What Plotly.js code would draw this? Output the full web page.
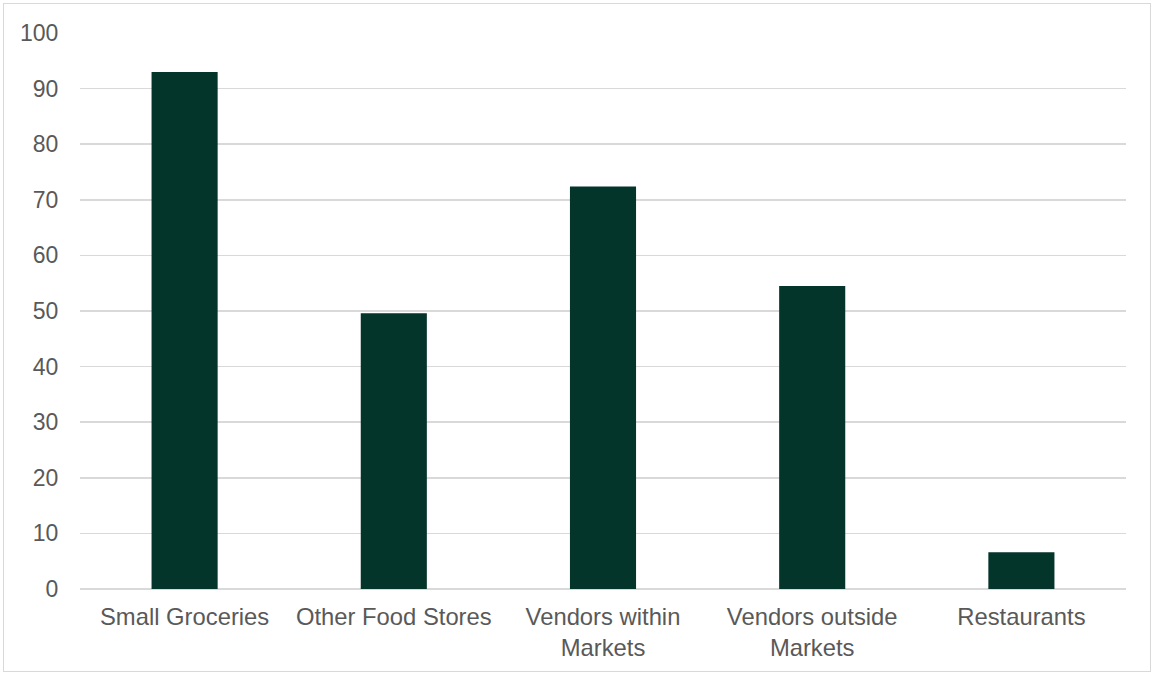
<!DOCTYPE html>
<html>
<head>
<meta charset="utf-8">
<script src="https://cdn.plot.ly/plotly-3.0.1.min.js"></script>
<style>
html,body{margin:0;padding:0;background:#fff;}
#chart{width:1155px;height:675px;}
#frame{position:absolute;left:3px;top:3px;width:1148px;height:669px;border:1px solid #d9d9d9;box-sizing:border-box;pointer-events:none;}
</style>
</head>
<body>
<div id="chart"></div>
<div id="frame"></div>
<script>
var categories = ["Small Groceries", "Other Food Stores", "Vendors within<br>Markets", "Vendors outside<br>Markets", "Restaurants"];
var values = [93.0, 49.6, 72.4, 54.5, 6.6];
var yTicks = [0, 10, 20, 30, 40, 50, 60, 70, 80, 90, 100];

var trace = {
  type: 'bar',
  x: categories,
  y: values,
  marker: {color: '#04352A', line: {width: 0}},
  width: 0.316,
  hoverinfo: 'x+y'
};

var layout = {
  width: 1155,
  height: 675,
  margin: {l: 80, r: 29, t: 33, b: 86},
  paper_bgcolor: '#ffffff',
  plot_bgcolor: '#ffffff',
  showlegend: false,
  font: {family: 'Liberation Sans, Arial, sans-serif', size: 23, color: '#595959'},
  xaxis: {
    type: 'category',
    showgrid: false,
    showline: false,
    zeroline: false,
    ticks: 'outside',
    ticklen: 6,
    tickcolor: 'rgba(0,0,0,0)',
    tickfont: {size: 23.8, color: '#595959'}
  },
  yaxis: {
    range: [0, 100],
    tickvals: yTicks,
    ticktext: yTicks.map(String),
    showgrid: true,
    gridcolor: '#d9d9d9',
    gridwidth: 1.5,
    zeroline: true,
    zerolinecolor: '#d9d9d9',
    zerolinewidth: 1.5,
    showline: false,
    ticks: 'outside',
    ticklen: 16,
    tickcolor: 'rgba(0,0,0,0)',
    tickfont: {size: 23, color: '#595959'}
  }
};

Plotly.newPlot('chart', [trace], layout, {displayModeBar: false, staticPlot: true});
</script>
</body>
</html>
